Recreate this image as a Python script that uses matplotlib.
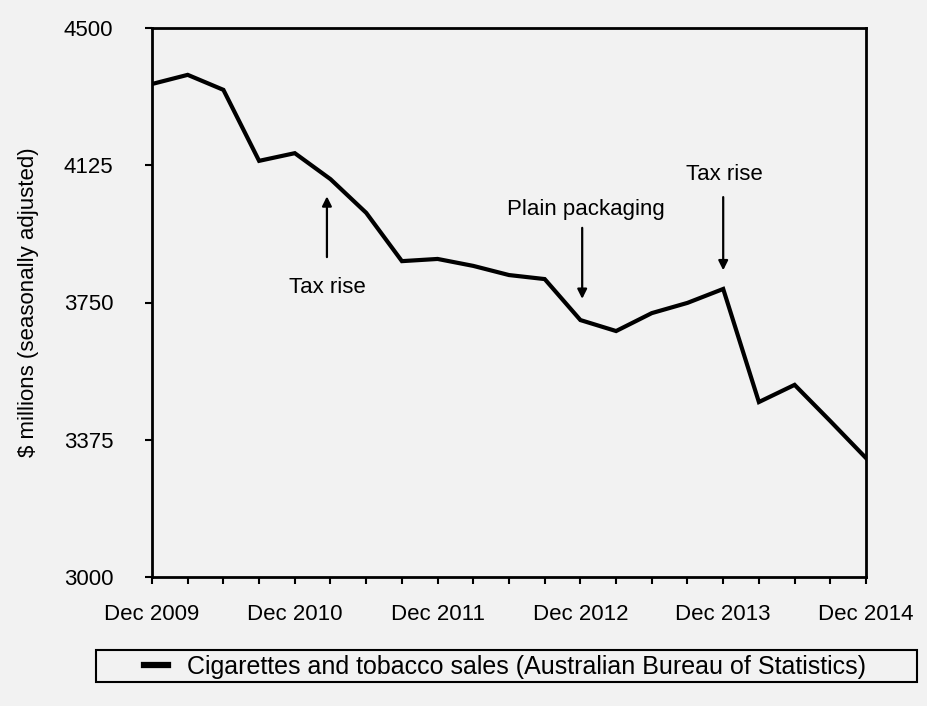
import matplotlib
matplotlib.use("Agg")
import matplotlib.pyplot as plt
from matplotlib.patches import Rectangle

plt.rcParams["font.family"] = ["Liberation Sans", "DejaVu Sans"]

# quarterly sales, Dec 2009 .. Dec 2014
quarter = list(range(21))
sales = [4347, 4372, 4331, 4137, 4158, 4087, 3995, 3863, 3869, 3850, 3825,
         3814, 3702, 3672, 3721, 3749, 3787, 3478, 3525, 3426, 3325]
year_ticks = [0, 4, 8, 12, 16, 20]
year_labels = ["Dec 2009", "Dec 2010", "Dec 2011", "Dec 2012", "Dec 2013", "Dec 2014"]
y_ticks = [3000, 3375, 3750, 4125, 4500]

# (label, arrow x, text x, text y, arrow tail y, arrow head y)
events = [
    ("Tax rise", 4.9, 4.9, 3792, 3874, 4040),
    ("Plain packaging", 12.05, 12.16, 4003, 3954, 3760),
    ("Tax rise", 16.0, 16.03, 4099, 4038, 3838),
]

bg = "#f2f2f2"
fs = 16
fig = plt.figure(figsize=(9.28, 7.06), dpi=100, facecolor=bg)
ax = fig.add_axes([152 / 928, 129 / 706, 714 / 928, 549 / 706], facecolor=bg)

ax.plot(quarter, sales, color="black", lw=3, solid_joinstyle="miter",
        label="Cigarettes and tobacco sales (Australian Bureau of Statistics)")

for label, axx, tx, ty, tail, head in events:
    ax.annotate("", xy=(axx, head), xytext=(axx, tail),
                arrowprops=dict(arrowstyle="-|>", color="black", lw=1.6,
                                mutation_scale=14, shrinkA=0, shrinkB=0))
    ax.text(tx, ty, label, ha="center", va="center", fontsize=fs)

ax.set_xlim(0, 20)
ax.set_ylim(3000, 4500)
ax.set_yticks(y_ticks)
ax.set_xticks(quarter, minor=True)
ax.set_xticks(year_ticks)
ax.set_xticklabels(year_labels)
ax.tick_params(axis="both", which="both", direction="out", length=5, width=1.5,
               labelsize=fs)
ax.tick_params(axis="x", which="both", pad=14.5)
ax.tick_params(axis="y", pad=23)
for s in ax.spines.values():
    s.set_linewidth(2)

ax.set_ylabel("$ millions (seasonally adjusted)", fontsize=fs)
ax.yaxis.set_label_coords((39 - 152) / 714, 0.5)

leg = fig.legend(loc="center", bbox_to_anchor=(505 / 928, 1 - 667 / 706),
                 frameon=False, fontsize=18, handlelength=0.95,
                 handletextpad=0.75)
leg.get_lines()[0].set_linewidth(4.5)
fig.patches.append(Rectangle((96 / 928, 1 - 682 / 706), 821 / 928, 32 / 706,
                             transform=fig.transFigure, fill=False,
                             edgecolor="black", linewidth=1.5))

fig.savefig("out.png", dpi=100, facecolor=bg)
